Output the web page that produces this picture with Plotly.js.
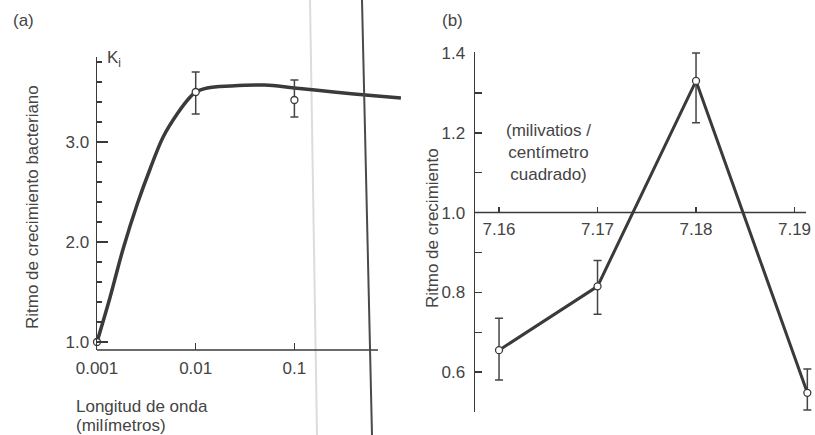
<!DOCTYPE html>
<html>
<head>
<meta charset="utf-8">
<script src="https://cdn.plot.ly/plotly-3.0.1.min.js"></script>
<style>html,body{margin:0;padding:0;background:#fff;}#chart{width:815px;height:435px;}</style>
</head>
<body>
<div id="chart"></div>
<script>
// ---------- Panel (a) data ----------
const curveA_x = [0.001, 0.00135, 0.00185, 0.00256, 0.00345, 0.00468, 0.00648, 0.0088, 0.01, 0.0131, 0.0224, 0.05, 0.1, 0.25, 0.525, 1.2];
const curveA_y = [1.0, 1.44, 1.94, 2.38, 2.73, 3.05, 3.28, 3.45, 3.5, 3.54, 3.56, 3.57, 3.54, 3.5, 3.47, 3.44];
const pointsA_x = [0.001, 0.01, 0.1];
const pointsA_y = [1.0, 3.5, 3.42];
const pointsA_errPlus = [0, 0.2, 0.2];
const pointsA_errMinus = [0, 0.22, 0.17];
const ticksA_x = [0.001, 0.01, 0.1];
const tickTextA_x = ['0.001', '0.01', '0.1'];

// ---------- Panel (b) data ----------
const powerB = [7.16, 7.17, 7.18, 7.1913];
const growthB = [0.655, 0.815, 1.33, 0.548];
const growthB_errPlus = [0.08, 0.065, 0.07, 0.06];
const growthB_errMinus = [0.075, 0.07, 0.105, 0.043];
const ticksB_x = [7.16, 7.17, 7.18, 7.19];
const tickTextB_x = ['7.16', '7.17', '7.18', '7.19'];

const W = 815, H = 435;
const px = x => x / W;
const py = y => 1 - y / H;

const INK = '#3a3a3a';
const TXT = '#444444';
const FONT = {family: 'Liberation Sans, Arial, sans-serif', size: 17, color: TXT};

// axis geometry (pixels)
const A = {left: 97, right: 401, top: 57, bottom: 350, xAxisEnd: 378};
const B = {left: 475, right: 813, top: 52, bottom: 412, xAxisEnd: 806};
const xRangeB = [7.15756, 7.15756 + (B.right - B.left) / 9850];
const yRangeB = [0.5, 1.4025];
const yDomB = [py(B.bottom), py(B.top)];
const xAxisB_at = 1.0;
const xPosB = yDomB[0] + (xAxisB_at - yRangeB[0]) / (yRangeB[1] - yRangeB[0]) * (yDomB[1] - yDomB[0]);

const traces = [
  {x: curveA_x, y: curveA_y, xaxis: 'x', yaxis: 'y', mode: 'lines', cliponaxis: false,
   line: {color: INK, width: 3.5, shape: 'spline', smoothing: 1}, hoverinfo: 'skip'},
  {x: pointsA_x, y: pointsA_y, xaxis: 'x', yaxis: 'y', mode: 'markers', cliponaxis: false,
   marker: {symbol: 'circle', size: 7, color: '#fff', line: {color: INK, width: 1.3}},
   error_y: {type: 'data', symmetric: false, array: pointsA_errPlus, arrayminus: pointsA_errMinus,
             color: '#444', thickness: 1.5, width: 4}},
  {x: powerB, y: growthB, xaxis: 'x2', yaxis: 'y2', mode: 'lines+markers', cliponaxis: false,
   line: {color: INK, width: 3},
   marker: {symbol: 'circle', size: 7, color: '#fff', line: {color: INK, width: 1.3}},
   error_y: {type: 'data', symmetric: false, array: growthB_errPlus, arrayminus: growthB_errMinus,
             color: '#444', thickness: 1.5, width: 4}}
];

const layout = {
  width: W, height: H,
  margin: {l: 0, r: 0, t: 0, b: 0},
  paper_bgcolor: '#fff', plot_bgcolor: 'rgba(0,0,0,0)',
  showlegend: false,
  font: FONT,
  xaxis: {
    type: 'log', domain: [px(A.left), px(A.right)], range: [-3, 0.08],
    anchor: 'y', showline: false, showgrid: false, zeroline: false,
    tickmode: 'array', tickvals: ticksA_x, ticktext: tickTextA_x,
    ticks: 'inside', ticklen: 7, tickwidth: 1.5, tickcolor: INK,
    ticklabelstandoff: 6, tickfont: FONT
  },
  yaxis: {
    domain: [py(A.bottom), py(A.top)], range: [0.92, 3.85],
    anchor: 'x', showline: true, linecolor: INK, linewidth: 1.5,
    showgrid: false, zeroline: false,
    tickmode: 'linear', tick0: 1, dtick: 1, tickformat: '.1f',
    ticks: 'inside', ticklen: 11, tickwidth: 1.5, tickcolor: INK,
    ticklabelstandoff: 3, tickfont: FONT,
    minor: {tickmode: 'linear', tick0: 1, dtick: 0.2, ticks: 'inside', ticklen: 5, tickwidth: 1.3, tickcolor: INK}
  },
  xaxis2: {
    domain: [px(B.left), px(B.right)], range: xRangeB,
    anchor: 'free', position: xPosB, side: 'bottom',
    showline: false, showgrid: false, zeroline: false,
    tickmode: 'array', tickvals: ticksB_x, ticktext: tickTextB_x,
    ticks: 'inside', ticklen: 6, tickwidth: 1.5, tickcolor: INK,
    ticklabelstandoff: 4, tickfont: FONT
  },
  yaxis2: {
    domain: yDomB, range: yRangeB,
    anchor: 'x2', showline: true, linecolor: INK, linewidth: 1.5,
    showgrid: false, zeroline: false,
    tickmode: 'linear', tick0: 0.6, dtick: 0.2, tickformat: '.1f',
    ticks: 'inside', ticklen: 7, tickwidth: 1.5, tickcolor: INK,
    ticklabelstandoff: 5, tickfont: FONT,
    minor: {tickmode: 'linear', tick0: 0.5, dtick: 0.1, ticks: 'inside', ticklen: 7, tickwidth: 1.3, tickcolor: INK}
  },
  shapes: [
    // panel (a) horizontal axis line (ends before the curve ends)
    {type: 'line', xref: 'paper', yref: 'paper', x0: px(A.left), x1: px(A.xAxisEnd), y0: py(A.bottom), y1: py(A.bottom),
     line: {color: INK, width: 1.5}},
    // panel (b) horizontal axis line at y = 1.0
    {type: 'line', xref: 'paper', yref: 'paper', x0: px(B.left), x1: px(B.xAxisEnd), y0: xPosB, y1: xPosB,
     line: {color: INK, width: 1.5}},
    // scan artifacts: faint and dark vertical page lines
    {type: 'line', xref: 'paper', yref: 'paper', x0: px(310), x1: px(317), y0: 1, y1: 0,
     line: {color: '#dcdcdc', width: 2}, layer: 'below'},
    {type: 'line', xref: 'paper', yref: 'paper', x0: px(362), x1: px(372), y0: 1, y1: 0,
     line: {color: '#4a4a4a', width: 2}}
  ],
  annotations: [
    {text: '(a)', xref: 'paper', yref: 'paper', x: px(23), y: py(21), xanchor: 'center', yanchor: 'middle', showarrow: false, font: FONT},
    {text: '(b)', xref: 'paper', yref: 'paper', x: px(452), y: py(21), xanchor: 'center', yanchor: 'middle', showarrow: false, font: FONT},
    {text: 'K<sub>i</sub>', xref: 'paper', yref: 'paper', x: px(105), y: py(59), xanchor: 'left', yanchor: 'middle', showarrow: false, font: FONT},
    {text: 'Ritmo de crecimiento bacteriano', xref: 'paper', yref: 'paper', x: px(32), y: py(207), textangle: -90,
     xanchor: 'center', yanchor: 'middle', showarrow: false, font: FONT},
    {text: 'Longitud de onda', xref: 'paper', yref: 'paper', x: px(74), y: py(406), xanchor: 'left', yanchor: 'middle', showarrow: false, font: FONT},
    {text: '(milímetros)', xref: 'paper', yref: 'paper', x: px(74), y: py(425), xanchor: 'left', yanchor: 'middle', showarrow: false, font: FONT},
    {text: 'Ritmo de crecimiento', xref: 'paper', yref: 'paper', x: px(432), y: py(228), textangle: -90,
     xanchor: 'center', yanchor: 'middle', showarrow: false, font: FONT},
    {text: '(milivatios /<br>centímetro<br>cuadrado)', xref: 'paper', yref: 'paper', x: px(548), y: py(152),
     xanchor: 'center', yanchor: 'middle', align: 'center', showarrow: false, font: FONT}
  ]
};

Plotly.newPlot('chart', traces, layout, {displayModeBar: false, staticPlot: true});
</script>
</body>
</html>
